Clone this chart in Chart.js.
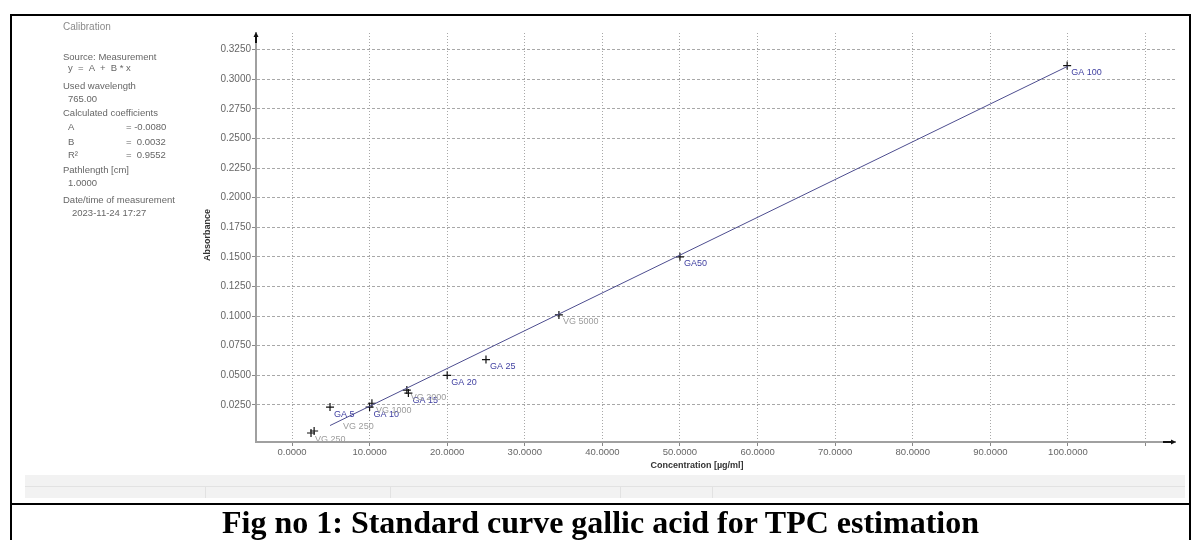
<!DOCTYPE html>
<html>
<head>
<meta charset="utf-8">
<script src="https://cdn.jsdelivr.net/npm/chart.js@4.4.0/dist/chart.umd.min.js"></script>
<style>
  body { margin:0; background:#fff; width:1200px; height:540px; overflow:hidden; position:relative; font-family:"Liberation Sans", Arial, sans-serif; }
  canvas { position:absolute; left:0; top:0; }
  .frame { position:absolute; left:10px; top:14px; width:1181px; height:540px; border:2px solid #000; border-bottom:none; box-sizing:border-box; }
  .sep { position:absolute; left:10px; top:503px; width:1181px; height:2px; background:#000; }
  .caption { position:absolute; left:10px; width:1181px; top:505px; text-align:center; font:bold 32px "Liberation Serif", "Times New Roman", serif; line-height:34px; color:#000; }
  .status { position:absolute; left:25px; top:475px; width:1160px; height:23px; background:#f2f2f2; }
  .status .row { position:absolute; left:0; top:11px; width:100%; height:1px; background:#e2e2e2; }
  .status .cell { position:absolute; top:12px; width:1px; height:11px; background:#e2e2e2; }
  #info div { position:absolute; white-space:nowrap; font-size:9.5px; color:#666; line-height:12px; }
</style>
</head>
<body>
<canvas id="calib" width="1200" height="540"></canvas>

<div id="info">
  <div style="left:63px;top:21px;font-size:10px;color:#8a8a8a">Calibration</div>
  <div style="left:63px;top:51px">Source: Measurement</div>
  <div style="left:68px;top:62px">y &nbsp;= &nbsp;A &nbsp;+ &nbsp;B * x</div>
  <div style="left:63px;top:80px">Used wavelength</div>
  <div style="left:68px;top:93px">765.00</div>
  <div style="left:63px;top:107px">Calculated coefficients</div>
  <div style="left:68px;top:121px">A</div><div style="left:126px;top:121px">= -0.0080</div>
  <div style="left:68px;top:136px">B</div><div style="left:126px;top:136px">= &nbsp;0.0032</div>
  <div style="left:68px;top:149px">R²</div><div style="left:126px;top:149px">= &nbsp;0.9552</div>
  <div style="left:63px;top:164px">Pathlength [cm]</div>
  <div style="left:68px;top:177px">1.0000</div>
  <div style="left:63px;top:194px">Date/time of measurement</div>
  <div style="left:72px;top:207px">2023-11-24 17:27</div>
</div>

<div class="status">
  <div class="row"></div>
  <div class="cell" style="left:180px"></div>
  <div class="cell" style="left:365px"></div>
  <div class="cell" style="left:595px"></div>
  <div class="cell" style="left:687px"></div>
</div>

<div class="frame"></div>
<div class="sep"></div>
<div class="caption">Fig no 1: Standard curve gallic acid for TPC estimation</div>

<script>
const pointNames    = ['VG 250', 'VG 250', 'GA 5', 'GA 10', 'VG 1000', 'GA 15', 'VG 2000', 'GA 20', 'GA 25', 'VG 5000', 'GA50', 'GA 100'];
const concentration = [2.45, 2.85, 4.9, 10.0, 10.3, 15.0, 14.8, 20.0, 25.0, 34.4, 50.0, 99.9];
const absorbance    = [0.0013, 0.0030, 0.0232, 0.0232, 0.0264, 0.0350, 0.0375, 0.0500, 0.0633, 0.1010, 0.1500, 0.3115];

// fitted calibration line (ends as drawn)
const fitX = [4.9, 100.0];
const fitY = [0.0076, 0.3110];

const xTickValues = [0, 10, 20, 30, 40, 50, 60, 70, 80, 90, 100, 110];
const yTickValues = [0.025, 0.05, 0.075, 0.1, 0.125, 0.15, 0.175, 0.2, 0.225, 0.25, 0.275, 0.3, 0.325];

// label nudges (px) where the default offset is not what the picture shows
const labelShift = { 1: [29, -4] };

const fontUI = '"Liberation Sans", Arial, sans-serif';

// point names, axis arrows and axis titles
const decor = {
    id: 'decor',
    afterDatasetsDraw(chart) {
        const ctx = chart.ctx, xs = chart.scales.x, ys = chart.scales.y, area = chart.chartArea;
        ctx.save();
        ctx.font = '9px ' + fontUI;
        ctx.textBaseline = 'middle';
        ctx.textAlign = 'left';
        const order = pointNames.map((n, i) => i)
            .sort((a, b) => (pointNames[a].startsWith('VG') ? 1 : 0) - (pointNames[b].startsWith('VG') ? 1 : 0));
        order.forEach(i => {
            const px = xs.getPixelForValue(concentration[i]);
            const py = ys.getPixelForValue(absorbance[i]);
            const s = labelShift[i] || [4, 7];
            ctx.fillStyle = pointNames[i].startsWith('GA') ? '#3f3fa0' : '#9c9c9c';
            ctx.fillText(pointNames[i], px + s[0], py + s[1]);
        });

        // arrows
        ctx.fillStyle = '#111';
        ctx.strokeStyle = '#111';
        ctx.lineWidth = 2;
        ctx.beginPath();
        ctx.moveTo(area.left, area.top + 10);
        ctx.lineTo(area.left, area.top + 2);
        ctx.stroke();
        ctx.beginPath();
        ctx.moveTo(area.left - 2.5, area.top + 4);
        ctx.lineTo(area.left + 2.5, area.top + 4);
        ctx.lineTo(area.left, area.top - 1);
        ctx.fill();
        ctx.beginPath();
        ctx.moveTo(area.right - 12, area.bottom);
        ctx.lineTo(area.right - 2, area.bottom);
        ctx.stroke();
        ctx.beginPath();
        ctx.moveTo(area.right - 4, area.bottom - 2.5);
        ctx.lineTo(area.right - 4, area.bottom + 2.5);
        ctx.lineTo(area.right + 1, area.bottom);
        ctx.fill();

        // axis titles
        ctx.fillStyle = '#333';
        ctx.font = 'bold 9px ' + fontUI;
        ctx.textAlign = 'center';
        ctx.fillText('Concentration [µg/ml]', 697, 466);
        ctx.translate(208, 235);
        ctx.rotate(-Math.PI / 2);
        ctx.fillText('Absorbance', 0, 0);
        ctx.restore();
    }
};

const ctx = document.getElementById('calib').getContext('2d');
const chart = new Chart(ctx, {
    type: 'scatter',
    data: {
        datasets: [
            {
                label: 'Fit',
                data: fitX.map((x, i) => ({ x: x, y: fitY[i] })),
                showLine: true,
                borderColor: '#4d4d8f',
                borderWidth: 1,
                pointRadius: 0
            },
            {
                label: 'Standards',
                data: concentration.map((x, i) => ({ x: x, y: absorbance[i] })),
                pointStyle: 'cross',
                pointRadius: 4,
                borderColor: '#111',
                borderWidth: 1.2,
                showLine: false
            }
        ]
    },
    options: {
        responsive: false,
        animation: false,
        layout: { padding: { left: 0, top: 33, right: 25, bottom: 0 } },
        plugins: { legend: { display: false }, tooltip: { enabled: false } },
        scales: {
            x: {
                type: 'linear',
                min: -4.64,
                max: 113.8,
                afterFit: s => { s.height = 98; },
                afterBuildTicks: s => { s.ticks = xTickValues.map(v => ({ value: v })); },
                ticks: {
                    color: '#666',
                    font: { family: fontUI, size: 9.5 },
                    padding: 1,
                    maxRotation: 0,
                    autoSkip: false,
                    callback: v => v > 100 ? '' : v.toFixed(4)
                },
                grid: { color: '#a8a8a8', tickColor: '#888', tickLength: 4, drawTicks: true },
                border: { display: true, color: '#a0a0a0', width: 2, dash: [1, 2] }
            },
            y: {
                type: 'linear',
                min: -0.0063,
                max: 0.339,
                afterFit: s => { s.width = 256; },
                afterBuildTicks: s => { s.ticks = yTickValues.map(v => ({ value: v })); },
                ticks: {
                    color: '#666',
                    font: { family: fontUI, size: 10 },
                    padding: 1,
                    autoSkip: false,
                    callback: v => v.toFixed(4)
                },
                grid: { color: '#a8a8a8', tickColor: '#888', tickLength: 4, drawTicks: true },
                border: { display: true, color: '#a0a0a0', width: 2, dash: [3, 2] }
            }
        }
    },
    plugins: [decor]
});
</script>
</body>
</html>
